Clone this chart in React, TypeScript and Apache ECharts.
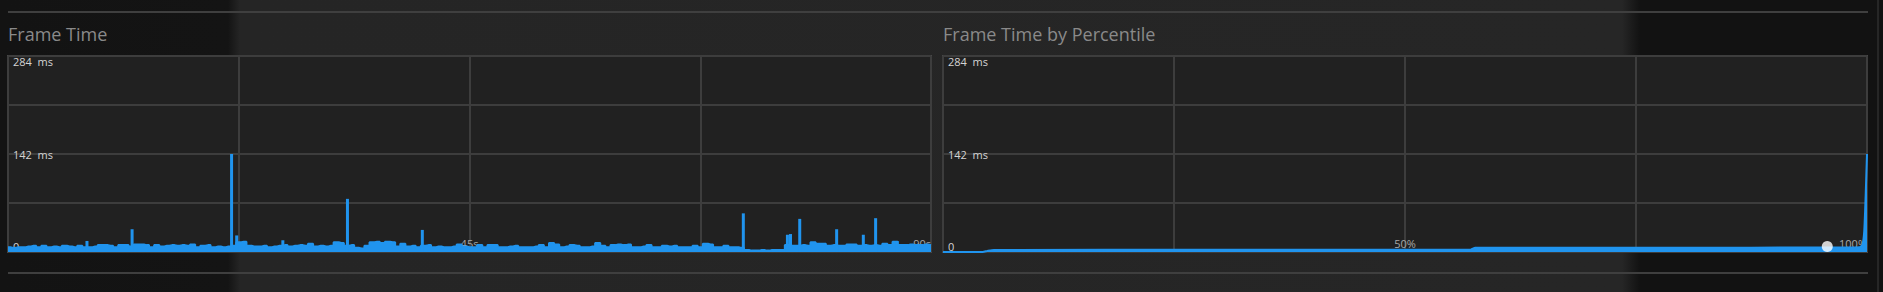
import React, { useEffect, useRef } from "react";
import * as echarts from "echarts";

// ---- data ----
const SAMPLE_STEP_S = 0.5; // baseline frame-time samples, every 0.5 s from 0 s to 90 s
const frameTimeBaselineMs = [
  7, 6, 7, 7, 8, 9, 7, 9, 7, 8, 7, 9, 8, 7, 9, 7, 7, 8, 10, 10,
  9, 7, 10, 10, 8, 11, 11, 10, 7, 10, 8, 9, 10, 9, 10, 9, 11, 7, 9, 10,
  7, 8, 7, 8, 9, 14, 15, 9, 8, 8, 9, 7, 8, 9, 10, 8, 9, 10, 9, 12,
  8, 9, 8, 9, 14, 13, 9, 10, 6, 5, 9, 14, 15, 13, 15, 14, 8, 12, 8, 9,
  7, 9, 10, 7, 8, 7, 7, 8, 11, 8, 7, 7, 10, 7, 10, 10, 7, 7, 8, 9,
  7, 7, 7, 8, 10, 7, 13, 11, 7, 8, 10, 9, 7, 7, 8, 13, 9, 7, 10, 11,
  10, 11, 7, 7, 8, 10, 7, 7, 9, 8, 9, 7, 7, 7, 9, 7, 12, 11, 7, 7,
  9, 7, 7, 6, 3, 2, 2, 3, 2, 3, 3, 3, 10, 9, 9, 10, 9, 14, 12, 12,
  9, 10, 9, 9, 11, 11, 9, 10, 9, 10, 9, 12, 10, 15, 10, 10, 11, 10, 10, 11,
  10,
];
const spikeTimesS = [7.7, 12.1, 21.8, 22.3, 26.8, 33.1, 40.4, 71.7, 76.0, 76.3, 77.2, 80.8, 83.4, 84.6, 86.7];
const spikeValuesMs = [16, 33, 142, 24, 17, 77, 32, 56, 25, 26, 48, 33, 25, 49, 16];

const percentilePct = [0, 4.3, 4.8, 5.5, 30, 57.1, 57.6, 80, 95, 99.2, 99.5, 99.7, 99.85, 100];
const percentileMs = [0, 0, 1.5, 3, 3.2, 3.4, 6, 6.2, 6.5, 7, 10, 30, 80, 142];
const markerPct = 95.7;
const markerMs = 8;

const Y_MAX_MS = 284;
const Y_STEP_MS = 71;
const yTickLabels: Record<number, string> = { 0: "0", 142: "142  ms", 284: "284  ms" };
const TIME_MAX_S = 90;
const TIME_STEP_S = 22.5;
const timeTickLabels: Record<number, string> = { 45: "45s", 90: "90s" };
const PCT_MAX = 100;
const PCT_STEP = 25;
const pctTickLabels: Record<number, string> = { 50: "50%", 100: "100%" };

const titles = ["Frame Time", "Frame Time by Percentile"];

// ---- styles ----
const BLUE = "#2094ee";
const FONT = "'Open Sans', 'Noto Sans', sans-serif";
const splitLine = { show: true, lineStyle: { color: "#3d3d3d", width: 2 } };

export default function App() {
  const ref = useRef<HTMLDivElement>(null);
  useEffect(() => {
    if (!ref.current) return;
    const chart = echarts.init(ref.current, null, { renderer: "svg" });

    const baselineData = frameTimeBaselineMs.map((v, i) => [i * SAMPLE_STEP_S, v]);
    const spikeData = spikeTimesS.map((t, i) => [t, spikeValuesMs[i]]);
    const pctData = percentilePct.map((p, i) => [p, percentileMs[i]]);

    const gridBase = {
      top: 56,
      height: 196,
      show: true,
      backgroundColor: "#212121",
      borderColor: "#474747",
      borderWidth: 2,
      containLabel: false,
    };

    const yAxisBase = (gridIndex: number) => ({
      type: "value",
      gridIndex,
      min: 0,
      max: Y_MAX_MS,
      interval: Y_STEP_MS,
      axisLine: { show: false },
      axisTick: { show: false },
      splitLine,
      axisLabel: {
        inside: true,
        margin: 5,
        color: "#d4d4d4",
        fontSize: 11,
        fontFamily: FONT,
        showMinLabel: true,
        showMaxLabel: true,
        verticalAlignMinLabel: "bottom",
        verticalAlignMaxLabel: "top",
        formatter: (v: number) => yTickLabels[v] ?? "",
      },
    });

    const xLabel = (labels: Record<number, string>) => ({
      inside: true,
      margin: 3,
      color: "#a8a8a8",
      fontSize: 11,
      fontFamily: FONT,
      showMinLabel: true,
      showMaxLabel: true,
      alignMaxLabel: "right",
      formatter: (v: number) => labels[v] ?? "",
    });

    chart.setOption({
      animation: false,
      backgroundColor: "transparent",
      grid: [
        { ...gridBase, left: 8, width: 923 },
        { ...gridBase, left: 943, width: 924 },
      ],
      xAxis: [
        {
          type: "value",
          gridIndex: 0,
          min: 0,
          max: TIME_MAX_S,
          interval: TIME_STEP_S,
          axisLine: { show: false },
          axisTick: { show: false },
          splitLine,
          axisLabel: xLabel(timeTickLabels),
        },
        {
          type: "value",
          gridIndex: 1,
          min: 0,
          max: PCT_MAX,
          interval: PCT_STEP,
          axisLine: { show: false },
          axisTick: { show: false },
          splitLine,
          axisLabel: xLabel(pctTickLabels),
        },
      ],
      yAxis: [yAxisBase(0), yAxisBase(1)],
      graphic: [
        {
          type: "line",
          silent: true,
          shape: { x1: 8, y1: 12, x2: 1868, y2: 12 },
          style: { stroke: "#3f3f3f", lineWidth: 2 },
        },
        {
          type: "line",
          silent: true,
          shape: { x1: 8, y1: 273, x2: 1868, y2: 273 },
          style: { stroke: "#3f3f3f", lineWidth: 2 },
        },
        {
          type: "line",
          silent: true,
          shape: { x1: 1878, y1: 0, x2: 1878, y2: 292 },
          style: { stroke: "#262626", lineWidth: 2 },
        },
        {
          type: "text",
          silent: true,
          x: 8,
          y: 34,
          style: {
            text: titles[0],
            fill: "#8a8a8a",
            font: `18px ${FONT}`,
            verticalAlign: "middle",
            align: "left",
          },
        },
        {
          type: "text",
          silent: true,
          x: 943,
          y: 34,
          style: {
            text: titles[1],
            fill: "#8a8a8a",
            font: `18px ${FONT}`,
            verticalAlign: "middle",
            align: "left",
          },
        },
      ],
      series: [
        {
          type: "line",
          xAxisIndex: 0,
          yAxisIndex: 0,
          data: baselineData,
          showSymbol: false,
          symbol: "none",
          step: "middle",
          lineStyle: { color: BLUE, width: 2 },
          areaStyle: { color: BLUE, opacity: 1 },
          z: 3,
        },
        {
          type: "bar",
          xAxisIndex: 0,
          yAxisIndex: 0,
          data: spikeData,
          barWidth: 3,
          itemStyle: { color: BLUE },
          z: 4,
        },
        {
          type: "line",
          xAxisIndex: 1,
          yAxisIndex: 1,
          data: pctData,
          showSymbol: false,
          symbol: "none",
          smooth: 0.2,
          lineStyle: { color: BLUE, width: 2 },
          areaStyle: { color: BLUE, opacity: 1 },
          z: 3,
        },
        {
          type: "scatter",
          xAxisIndex: 1,
          yAxisIndex: 1,
          data: [[markerPct, markerMs]],
          symbolSize: 11,
          itemStyle: { color: "#ffffff" },
          z: 6,
        },
      ],
    });
    return () => chart.dispose();
  }, []);

  return (
    <div
      style={{
        position: "absolute",
        left: 0,
        top: 0,
        width: 1883,
        height: 292,
        background:
          "linear-gradient(to right, #131313 0px, #141414 228px, #252525 240px, #262626 1622px, #121212 1640px, #121212 1883px)",
      }}
    >
      <div ref={ref} style={{ width: 1883, height: 292 }} />
    </div>
  );
}
